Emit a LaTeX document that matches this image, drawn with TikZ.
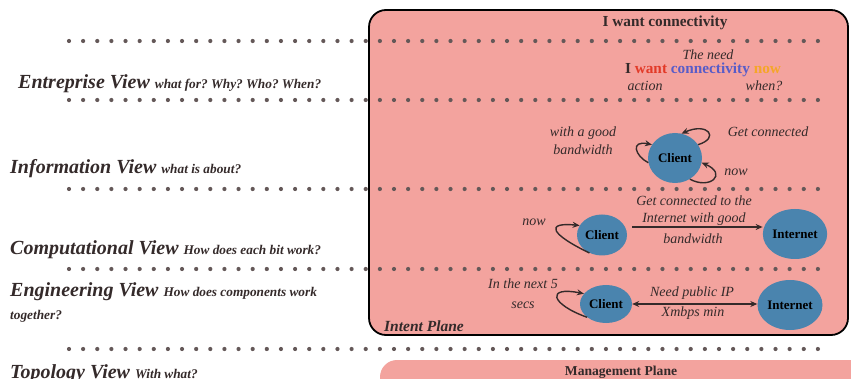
\documentclass[tikz,border=0pt]{standalone}
\usepackage{fontspec}
\setmainfont{Liberation Serif}
\usetikzlibrary{shapes.geometric,arrows.meta}

\definecolor{planepink}{RGB}{243,163,158}
\definecolor{nodeblue}{RGB}{74,132,174}
\definecolor{dotgray}{RGB}{100,88,88}
\definecolor{ink}{RGB}{52,42,42}
\definecolor{wantred}{RGB}{226,58,40}
\definecolor{connblue}{RGB}{88,92,200}
\definecolor{noworange}{RGB}{245,166,40}

\newcommand\viewqfont{\fontsize{13.3}{16}\selectfont\bfseries\itshape}
\frenchspacing

\tikzset{
  viewlabel/.style={anchor=base west, inner sep=0, text=ink,
    font=\fontsize{20}{22}\selectfont\bfseries\itshape},
  note/.style={inner sep=0, align=center, text=ink,
    font=\fontsize{14}{18}\selectfont\itshape},
  boldnote/.style={inner sep=0, text=ink,
    font=\fontsize{15.3}{17}\selectfont\bfseries},
  entity/.style={ellipse, fill=nodeblue, inner sep=0, text=black,
    font=\fontsize{13}{15}\selectfont\bfseries},
  flow/.style={line width=1.4pt, draw=ink, -{Stealth[length=7pt,width=6pt]}},
  plane/.style={fill=planepink, rounded corners=17pt},
  dotmark/.style={fill=dotgray, draw=none},
}

\begin{document}
\begin{tikzpicture}[x=1pt,y=-1pt]
\useasboundingbox (0,0) rectangle (851,379);

% planes
\draw[plane, draw=black, line width=1.8pt] (369,10) rectangle (848,335);
\fill[plane] (380,360) rectangle (880,410);

% dotted layer separators
\foreach \y in {41,100,189,269,349}
  \foreach \i in {0,...,53}
    \fill[dotmark] (69+\i*14.13,\y) circle (2.1pt);

% view names on the left
\node[viewlabel] (ent) at (18,89) {Entreprise View {\viewqfont what for? Why? Who? When?}};
\node[viewlabel] (inf) at (10,174) {Information View {\viewqfont what is about?}};
\node[viewlabel] (comp) at (10,255) {Computational View {\viewqfont How does each bit work?}};
\node[viewlabel] (eng) at (10,296) {Engineering View {\viewqfont How does components work}};
\node[viewlabel, font=\viewqfont] (eng2) at (10,319) {together?};
\node[viewlabel] (topo) at (10,378) {Topology View {\viewqfont With what?}};

% titles of the planes
\node[boldnote] (want) at (665,23) {I want connectivity};
\node[boldnote, font=\fontsize{15.5}{17}\selectfont\bfseries\itshape] (ip) at (424,326) {Intent Plane};
\node[boldnote, font=\fontsize{13.6}{15}\selectfont\bfseries] (mp) at (621,372) {Management Plane};

% enterprise row: the sentence and its parts
\node[boldnote] (sent) at (703,70) {I \textcolor{wantred}{want} \textcolor{connblue}{connectivity} \textcolor{noworange}{now}};
\node[note] (need) at (708,55) {The need};
\node[note] (act) at (645,86) {action};
\node[note] (when) at (764,86) {when?};

% information row
\node[entity, minimum width=54pt, minimum height=50pt] (c1) at (675,158) {Client};
\node[note] (bw) at (583,141) {with a good\\bandwidth};
\node[note] (gc) at (768,132) {Get connected};
\node[note] (now1) at (736,172) {now};
\draw[flow] (c1.30) .. controls (720,138) and (708,122) .. (c1.75);
\draw[flow] (c1.190) .. controls (635,156) and (630,140) .. (c1.150);
\draw[flow] (c1.-55) .. controls (710,190) and (728,174) .. (c1.-10);

% computational row
\node[entity, minimum width=50pt, minimum height=41pt] (c2) at (602,235) {Client};
\node[entity, minimum width=64pt, minimum height=50pt] (i2) at (795,234) {Internet};
\draw[flow] (c2.east) ++(5,-8) coordinate (a2s) -- (i2.west |- a2s) coordinate (a2e);
\node[note, font=\fontsize{14}{17}\selectfont\itshape] (gct) at (694,210.5) {Get connected to the\\Internet with good};
\node[note] (gcb) at (693,239) {bandwidth};
\node[note] (now2) at (534,222) {now};
\draw[flow] (c2.235) .. controls (550,234) and (545,222) .. (c2.157);

% engineering row
\node[entity, minimum width=52pt, minimum height=38pt] (c3) at (606,304) {Client};
\node[entity, minimum width=65pt, minimum height=50pt] (i3) at (790,305) {Internet};
\draw[flow, {Stealth[length=7pt,width=6pt]}-{Stealth[length=7pt,width=6pt]}] (c3.east) -- (i3.west |- c3.east);
\node[note] (pub) at (692,293) {Need public IP};
\node[note] (xm) at (693,313) {Xmbps min};
\node[note] (n5a) at (523,284) {In the next 5};
\node[note] (n5b) at (523,305) {secs};
\draw[flow] (c3.215) .. controls (550,304) and (546,286) .. (c3.155);
\end{tikzpicture}
\end{document}
